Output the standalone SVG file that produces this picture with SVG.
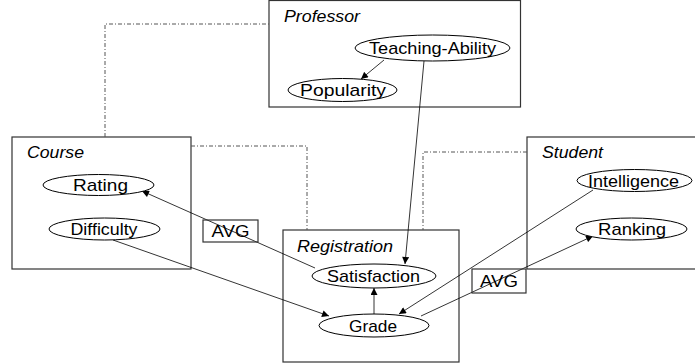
<svg xmlns="http://www.w3.org/2000/svg" width="695" height="364" viewBox="0 0 695 364">
<defs>
<style>
.box{fill:none;stroke:#333;stroke-width:1.2}
.ell{fill:#fff;stroke:#000;stroke-width:1}
.lbl{font-family:"Liberation Sans",Arial,sans-serif;font-size:17px;fill:#000;text-anchor:middle}
.cls{font-family:"Liberation Sans",Arial,sans-serif;font-size:17px;font-style:italic;fill:#000}
.dd{fill:none;stroke:#555;stroke-width:1;stroke-dasharray:4,2,1,2}
.arr{fill:none;stroke:#000;stroke-width:0.8;marker-end:url(#ah)}
</style>
<marker id="ah" viewBox="0 0 10 10" refX="10" refY="5" markerWidth="8" markerHeight="7" markerUnits="userSpaceOnUse" orient="auto">
<path d="M0,0 L10,5 L0,10 z" fill="#000"/>
</marker>
</defs>
<rect width="695" height="364" fill="#fff"/>

<g id="professor">
<rect class="box" x="269" y="0.5" width="251.5" height="106.5"/>
<text class="cls" x="284" y="22" textLength="76" lengthAdjust="spacingAndGlyphs">Professor</text>
</g>
<g id="course">
<rect class="box" x="12" y="137" width="179" height="132"/>
<text class="cls" x="27" y="158" textLength="57" lengthAdjust="spacingAndGlyphs">Course</text>
</g>
<g id="registration">
<rect class="box" x="283" y="230" width="176" height="132"/>
<text class="cls" x="297" y="252" textLength="96" lengthAdjust="spacingAndGlyphs">Registration</text>
</g>
<g id="student">
<rect class="box" x="527" y="137" width="200" height="132"/>
<text class="cls" x="542" y="158" textLength="61" lengthAdjust="spacingAndGlyphs">Student</text>
</g>

<g id="connectors">
<path class="dd" d="M105,137 V24 H269"/>
<path class="dd" d="M191,146 H307 V230"/>
<path class="dd" d="M527,152 H423 V230"/>
<line class="arr" x1="384" y1="60" x2="361" y2="79"/>
<line class="arr" x1="424" y1="61" x2="405" y2="264"/>
<line class="arr" x1="315" y1="268" x2="142" y2="191"/>
<line class="arr" x1="113" y1="240" x2="329" y2="316"/>
<line class="arr" x1="593" y1="190" x2="399" y2="314"/>
<line class="arr" x1="421" y1="316" x2="593" y2="236"/>
<line class="arr" x1="374" y1="314" x2="374" y2="288"/>
</g>

<g id="avg1">
<rect class="box" x="203" y="220" width="55" height="22"/>
<text class="lbl" x="230.5" y="237" textLength="38" lengthAdjust="spacingAndGlyphs">AVG</text>
</g>
<g id="avg2">
<rect class="box" x="472" y="269" width="54" height="24"/>
<text class="lbl" x="499" y="287" textLength="38" lengthAdjust="spacingAndGlyphs">AVG</text>
</g>

<g id="teaching-ability">
<ellipse class="ell" cx="432.5" cy="48" rx="77.5" ry="13"/>
<text class="lbl" x="432.5" y="54" textLength="127" lengthAdjust="spacingAndGlyphs">Teaching-Ability</text>
</g>
<g id="popularity">
<ellipse class="ell" cx="342.5" cy="90" rx="54.5" ry="11.5"/>
<text class="lbl" x="343" y="96" textLength="86" lengthAdjust="spacingAndGlyphs">Popularity</text>
</g>
<g id="rating">
<ellipse class="ell" cx="98.5" cy="185" rx="55.5" ry="10.5"/>
<text class="lbl" x="100.5" y="191" textLength="55" lengthAdjust="spacingAndGlyphs">Rating</text>
</g>
<g id="difficulty">
<ellipse class="ell" cx="104.5" cy="229" rx="55.5" ry="11"/>
<text class="lbl" x="104" y="235" textLength="67" lengthAdjust="spacingAndGlyphs">Difficulty</text>
</g>
<g id="satisfaction">
<ellipse class="ell" cx="374" cy="276" rx="62" ry="12"/>
<text class="lbl" x="373.5" y="282" textLength="93" lengthAdjust="spacingAndGlyphs">Satisfaction</text>
</g>
<g id="grade">
<ellipse class="ell" cx="374" cy="325.5" rx="55" ry="11.5"/>
<text class="lbl" x="373" y="331.5" textLength="48" lengthAdjust="spacingAndGlyphs">Grade</text>
</g>
<g id="intelligence">
<ellipse class="ell" cx="634.5" cy="180.5" rx="57.5" ry="11"/>
<text class="lbl" x="633.5" y="186.5" textLength="91" lengthAdjust="spacingAndGlyphs">Intelligence</text>
</g>
<g id="ranking">
<ellipse class="ell" cx="631.5" cy="229" rx="55.5" ry="11"/>
<text class="lbl" x="632" y="235" textLength="68" lengthAdjust="spacingAndGlyphs">Ranking</text>
</g>
</svg>
